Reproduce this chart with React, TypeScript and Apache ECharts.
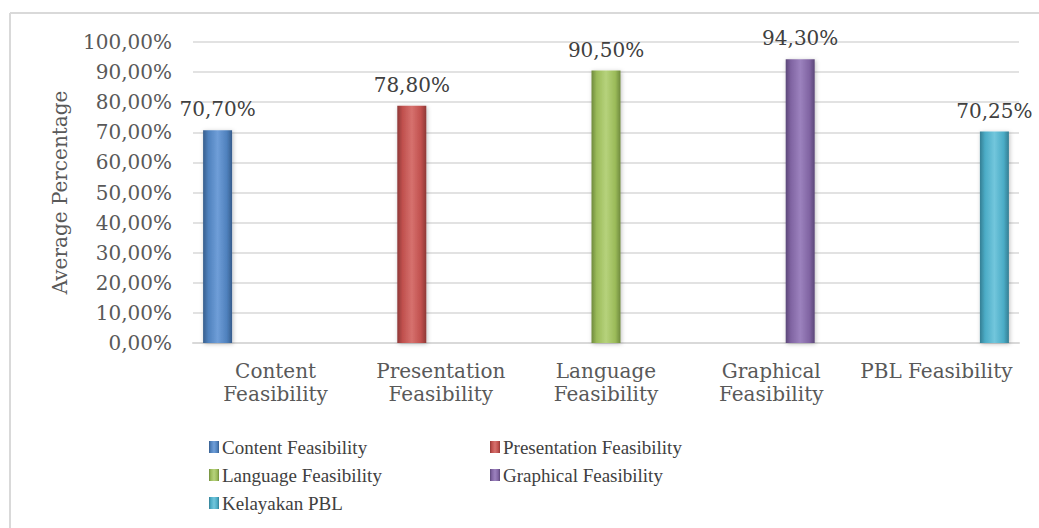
import React, { useEffect, useRef } from "react";
import * as echarts from "echarts";

const categories = [
  "Content Feasibility",
  "Presentation Feasibility",
  "Language Feasibility",
  "Graphical Feasibility",
  "PBL Feasibility",
];
const categoryLabels = [
  "Content\nFeasibility",
  "Presentation\nFeasibility",
  "Language\nFeasibility",
  "Graphical\nFeasibility",
  "PBL Feasibility",
];
const seriesNames = [
  "Content Feasibility",
  "Presentation Feasibility",
  "Language Feasibility",
  "Graphical Feasibility",
  "Kelayakan PBL",
];
const values = [70.7, 78.8, 90.5, 94.3, 70.25];
const baseColors = ["#4F81BD", "#C0504D", "#9BBB59", "#8064A2", "#4BACC6"];
const lightColors = ["#6f9ed8", "#d6716e", "#b6d27c", "#9c82be", "#72c6dc"];
const darkColors = ["#375d8c", "#8e3836", "#6f8a3d", "#5b4778", "#347e93"];
const legendLeft = ["Content Feasibility", "Language Feasibility", "Kelayakan PBL"];
const legendRight = ["Presentation Feasibility", "Graphical Feasibility"];

const fmt = (v: number) => v.toFixed(2).replace(".", ",") + "%";
const FONT = "'DejaVu Serif', 'Liberation Serif', serif";

export default function App() {
  const ref = useRef<HTMLDivElement>(null);
  useEffect(() => {
    if (!ref.current) return;
    const chart = echarts.init(ref.current, undefined, { renderer: "svg" });
    const series = seriesNames.map((name, i) => ({
      name,
      type: "bar",
      barWidth: 29,
      barGap: "0%",
      data: categories.map((_, j) => (j === i ? values[i] : "-")),
      itemStyle: {
        color: new echarts.graphic.LinearGradient(0, 0, 1, 0, [
          { offset: 0, color: darkColors[i] },
          { offset: 0.18, color: baseColors[i] },
          { offset: 0.5, color: lightColors[i] },
          { offset: 0.82, color: baseColors[i] },
          { offset: 1, color: darkColors[i] },
        ]),
        shadowBlur: 4,
        shadowColor: "rgba(0,0,0,0.25)",
        shadowOffsetX: 1,
        shadowOffsetY: 1,
      },
      label: {
        show: true,
        position: "top",
        distance: 11,
        formatter: (p: any) => fmt(p.value),
        fontFamily: FONT,
        fontSize: 20,
        color: "#404040",
      },
    }));
    const legendCommon = {
      orient: "vertical",
      icon: "rect",
      itemWidth: 10,
      itemHeight: 12,
      itemGap: 6,
      padding: 0,
      textStyle: {
        fontFamily: "'Liberation Serif', serif",
        fontSize: 19,
        lineHeight: 22,
        color: "#404040",
        padding: [0, 0, 0, -2],
      },
    };
    chart.setOption({
      animation: false,
      backgroundColor: "#ffffff",
      grid: { left: 193, right: 20, top: 42, bottom: 185, containLabel: false },
      xAxis: {
        type: "category",
        data: categories,
        axisLine: { show: true, lineStyle: { color: "#d9d9d9", width: 2 } },
        axisTick: { show: false },
        axisLabel: {
          interval: 0,
          margin: 16,
          fontFamily: FONT,
          fontSize: 20,
          lineHeight: 23,
          color: "#595959",
          formatter: (_v: string, idx: number) => categoryLabels[idx],
        },
      },
      yAxis: {
        type: "value",
        min: 0,
        max: 100,
        interval: 10,
        name: "Average Percentage",
        nameLocation: "middle",
        nameGap: 123,
        nameTextStyle: { fontFamily: FONT, fontSize: 20, color: "#595959" },
        axisLine: { show: false },
        axisTick: { show: false },
        splitLine: { lineStyle: { color: "#d9d9d9", width: 1.5 } },
        axisLabel: {
          margin: 21,
          fontFamily: FONT,
          fontSize: 20,
          color: "#595959",
          formatter: (v: number) => fmt(v),
        },
      },
      legend: [
        { ...legendCommon, left: 209, top: 436, data: legendLeft },
        { ...legendCommon, left: 490, top: 436, data: legendRight },
      ],
      graphic: [
        {
          type: "line",
          shape: { x1: 10, y1: 13, x2: 1039, y2: 13 },
          style: { stroke: "#d9d9d9", lineWidth: 2 },
          silent: true,
        },
        {
          type: "line",
          shape: { x1: 10, y1: 13, x2: 10, y2: 528 },
          style: { stroke: "#d9d9d9", lineWidth: 2 },
          silent: true,
        },
      ],
      series,
    });
    return () => chart.dispose();
  }, []);
  return (
    <div
      ref={ref}
      style={{ position: "fixed", left: 0, top: 0, width: 1039, height: 528 }}
    />
  );
}
